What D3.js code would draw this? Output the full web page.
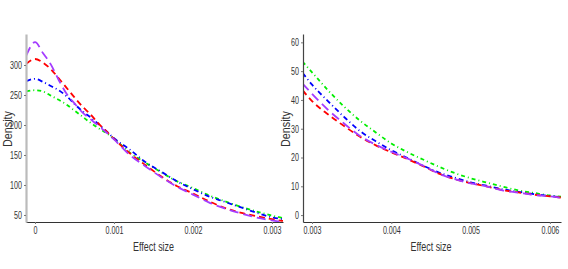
<!DOCTYPE html>
<html>
<head>
<meta charset="utf-8">
<script src="https://cdn.jsdelivr.net/npm/d3@7"></script>
<style>
  body { margin: 0; background: #fff; }
  text { font-family: "Liberation Sans", Arial, sans-serif; fill: #333; }
</style>
</head>
<body>
<script>
// left panel: effect size near zero
const leftX      = [-0.00011, 0, 0.0001, 0.0002, 0.0003, 0.0004, 0.0005, 0.0006, 0.0007, 0.0008, 0.0009, 0.001, 0.0012, 0.0014, 0.0016, 0.0018, 0.002, 0.0022, 0.0024, 0.0026, 0.0028, 0.003, 0.00314];
const leftPurple = [316, 338, 320, 301, 275, 252, 236, 221, 210, 199, 188, 176, 150, 131, 113, 97, 84, 71, 61, 53, 46, 41, 38];
const leftRed    = [302, 310, 304, 293, 278, 262, 246, 231, 218, 203, 190, 177, 153, 133, 114, 98, 86, 73, 62, 54, 48, 43, 40];
const leftBlue   = [273, 277, 272, 265, 258, 248, 235, 223, 213, 202, 190, 178, 159, 138, 122, 106, 93, 81, 72, 63, 54, 46, 43];
const leftGreen  = [256, 258, 256, 249, 242, 234, 224, 214, 204, 195, 187, 177, 154, 137, 121, 106, 95, 83, 73, 64, 56, 49, 45];
const leftXTicks = [0, 0.001, 0.002, 0.003];
const leftXLabels = ["0", "0.001", "0.002", "0.003"];
const leftYTicks = [50, 100, 150, 200, 250, 300];

// right panel: tail
const rightX      = [0.00288, 0.003, 0.0032, 0.0034, 0.0036, 0.0038, 0.004, 0.0042, 0.0044, 0.0046, 0.0048, 0.005, 0.0052, 0.0054, 0.0056, 0.0058, 0.006, 0.00614];
const rightPurple = [45.7, 42.1, 36.6, 31.9, 27.6, 24.5, 22.0, 19.7, 17.2, 14.4, 12.5, 11.0, 10.0, 8.6, 7.8, 7.0, 6.5, 6.0];
const rightRed    = [43.4, 39.6, 35.0, 31.0, 27.3, 24.3, 21.8, 19.5, 17.0, 14.4, 12.5, 11.1, 10.0, 8.7, 7.9, 7.1, 6.5, 6.1];
const rightBlue   = [49.4, 45.3, 39.6, 34.2, 29.3, 25.7, 22.5, 19.9, 17.2, 14.8, 13.0, 11.4, 10.2, 9.0, 8.1, 7.3, 6.6, 6.2];
const rightGreen  = [53.3, 49.6, 43.4, 37.8, 32.9, 28.8, 24.9, 21.9, 19.3, 16.8, 14.6, 12.8, 11.3, 9.9, 8.6, 7.7, 6.8, 6.4];
const rightXTicks = [0.003, 0.004, 0.005, 0.006];
const rightXLabels = ["0.003", "0.004", "0.005", "0.006"];
const rightYTicks = [0, 10, 20, 30, 40, 50, 60];

const width = 568, height = 269;
const squeeze = 0.68; // the reference uses a condensed face

const svg = d3.select("body").append("svg")
  .attr("width", width)
  .attr("height", height);

const styles = [
  { key: "green",  color: "#00ee00", dash: "4,3,1,3" },
  { key: "blue",   color: "#0000ff", dash: "5,3,1,3" },
  { key: "red",    color: "#ff0000", dash: "6,4" },
  { key: "purple", color: "#a43cff", dash: "9,5" }
];

function drawPanel(cfg) {
  const x = d3.scaleLinear().domain(cfg.xDomain).range([cfg.left, cfg.right]);
  const y = d3.scaleLinear().domain(cfg.yDomain).range([cfg.bottom, cfg.top]);

  const g = svg.append("g");

  g.append("clipPath").attr("id", cfg.id)
    .append("rect")
    .attr("x", cfg.left).attr("y", cfg.top)
    .attr("width", cfg.right - cfg.left).attr("height", cfg.bottom - cfg.top);

  const line = d3.line()
    .x(d => x(d[0]))
    .y(d => y(d[1]))
    .curve(d3.curveMonotoneX);

  styles.forEach(s => {
    const pts = cfg.xs.map((v, i) => [v, cfg.series[s.key][i]]);
    g.append("path")
      .datum(pts)
      .attr("clip-path", `url(#${cfg.id})`)
      .attr("d", line)
      .attr("fill", "none")
      .attr("stroke", s.color)
      .attr("stroke-width", 1.8)
      .attr("stroke-dasharray", s.dash);
  });

  // x axis
  const xAxis = d3.axisBottom(x)
    .tickValues(cfg.xTicks)
    .tickFormat((d, i) => cfg.xLabels[i])
    .tickSize(2)
    .tickPadding(3)
    .tickSizeOuter(0);
  const gx = g.append("g").attr("transform", `translate(0,${cfg.bottom})`).call(xAxis);
  gx.select(".domain").attr("stroke", "#333").attr("stroke-width", 1.2);
  gx.selectAll(".tick line").attr("stroke", "#777");
  gx.selectAll("text")
    .attr("font-size", 10.5)
    .attr("fill", "#333")
    .attr("transform", `scale(${squeeze},1)`);

  // y axis
  const yAxis = d3.axisLeft(y)
    .tickValues(cfg.yTicks)
    .tickSize(2)
    .tickPadding(2)
    .tickSizeOuter(0);
  const gy = g.append("g").attr("transform", `translate(${cfg.left},0)`).call(yAxis);
  gy.select(".domain").attr("stroke", cfg.yAxisColor).attr("stroke-width", cfg.yAxisWidth);
  gy.selectAll(".tick line").attr("stroke", "#777");
  gy.selectAll("text")
    .attr("font-size", 10.5)
    .attr("fill", "#333")
    .attr("x", -4 / squeeze)
    .attr("transform", `scale(${squeeze},1)`);

  g.append("text")
    .attr("x", (cfg.left + cfg.right) / 2 - 1)
    .attr("y", 251)
    .attr("text-anchor", "middle")
    .attr("font-size", 12.5)
    .attr("textLength", 41)
    .attr("lengthAdjust", "spacingAndGlyphs")
    .text("Effect size");

  g.append("text")
    .attr("transform", `translate(${cfg.titleX},129) rotate(-90)`)
    .attr("text-anchor", "middle")
    .attr("font-size", 12.5)
    .attr("textLength", 36)
    .attr("lengthAdjust", "spacingAndGlyphs")
    .text("Density");
}

drawPanel({
  id: "clipL",
  left: 26, right: 283, top: 34, bottom: 222,
  xDomain: [-0.000114, 0.00314],
  yDomain: [38.3, 351.7],
  xs: leftX,
  series: { purple: leftPurple, red: leftRed, blue: leftBlue, green: leftGreen },
  xTicks: leftXTicks, xLabels: leftXLabels, yTicks: leftYTicks,
  yAxisColor: "#bbb", yAxisWidth: 2.2,
  titleX: 12
});

drawPanel({
  id: "clipR",
  left: 303, right: 561, top: 34, bottom: 222,
  xDomain: [0.002886, 0.00614],
  yDomain: [-2.4, 62.9],
  xs: rightX,
  series: { purple: rightPurple, red: rightRed, blue: rightBlue, green: rightGreen },
  xTicks: rightXTicks, xLabels: rightXLabels, yTicks: rightYTicks,
  yAxisColor: "#444", yAxisWidth: 1.2,
  titleX: 289.5
});
</script>
</body>
</html>
